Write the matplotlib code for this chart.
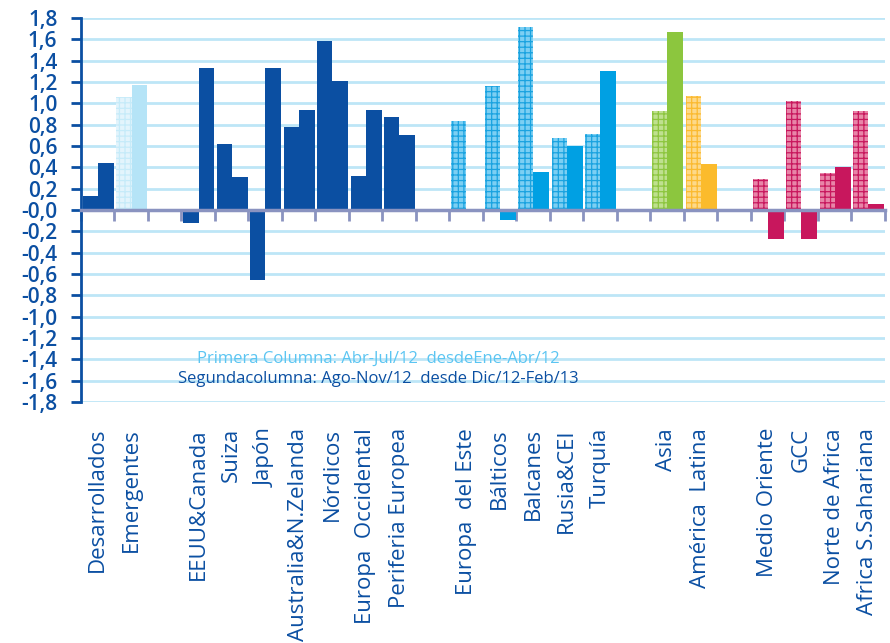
import numpy as np
import matplotlib.pyplot as plt
from matplotlib.transforms import blended_transform_factory

plt.rcParams['font.family'] = ['Open Sans', 'DejaVu Sans']
plt.rcParams['hatch.linewidth'] = 0.9

# Data
categories = ['Desarrollados', 'Emergentes',
              'EEUU&Canada', 'Suiza', 'Japón', 'Australia&N.Zelanda', 'Nórdicos',
              'Europa  Occidental', 'Periferia Europea',
              'Europa  del Este', 'Bálticos', 'Balcanes', 'Rusia&CEI', 'Turquía',
              'Asia', 'América  Latina',
              'Medio Oriente', 'GCC', 'Norte de Africa', 'Africa S.Sahariana']
group_sizes = [2, 7, 5, 2, 4]
first_col = [0.13, 1.06,
             -0.12, 0.62, -0.66, 0.78, 1.58, 0.32, 0.87,
             0.83, 1.16, 1.72, 0.67, 0.71,
             0.93, 1.07,
             0.29, 1.02, 0.35, 0.93]
second_col = [0.44, 1.17,
              1.33, 0.31, 1.33, 0.94, 1.21, 0.94, 0.70,
              -0.02, -0.09, 0.36, 0.60, 1.30,
              1.67, 0.43,
              -0.27, -0.27, 0.40, 0.06]
yticks = np.round(np.arange(-1.8, 1.81, 0.2), 1)

# colours: (first column face, first column hatch, second column)
dark = '#0b4fa2'
c_dark = (dark, None, dark)
c_emer = ('#e3f4fc', '#c6ebf9', '#b5e4f7')
c_east = ('#7ccff3', '#1aa3e0', '#00a0e3')
c_asia = ('#bfe08f', '#8dc63f', '#8cc63e')
c_lat = ('#fdd98a', '#fbba30', '#fbbb2c')
c_me = ('#e885a8', '#c8175d', '#c8175d')
colors = [c_dark, c_emer] + [c_dark] * 7 + [c_east] * 5 + [c_asia, c_lat] + [c_me] * 4

# slot positions, one empty slot between groups
slots = []
pos = 0
for g in group_sizes:
    slots.extend(range(pos, pos + g))
    pos += g + 1
n_slots = pos - 1

fig = plt.figure(figsize=(8.9, 6.43), dpi=100)
ax = fig.add_axes([0.091, 0.375, 0.903, 0.597])

for s, v1, v2, (face, hatch, solid) in zip(slots, first_col, second_col, colors):
    if hatch is None:
        ax.bar(s + 0.06, v1, width=0.45, align='edge', color=face, zorder=3)
    else:
        ax.bar(s + 0.06, v1, width=0.45, align='edge', facecolor=face,
               edgecolor=hatch, hatch='+++', linewidth=0, zorder=3)
    ax.bar(s + 0.51, v2, width=0.47, align='edge', color=solid, zorder=3)

ax.set_xlim(0, n_slots)
ax.set_ylim(-1.8, 1.8)

# grid
for y in yticks:
    if y != 0:
        ax.axhline(y, color='#bde6f7', linewidth=2, zorder=1)

# zero axis with boundary ticks
ax.spines['bottom'].set_position(('data', 0))
ax.spines['bottom'].set_color('#8a93c0')
ax.spines['bottom'].set_linewidth(2.5)
ax.spines['bottom'].set_zorder(4)
ax.set_xticks(np.arange(0, n_slots + 1))
ax.tick_params(axis='x', direction='out', length=8, width=2,
               color='#8a93c0', labelbottom=False)

for side in ['top', 'right']:
    ax.spines[side].set_visible(False)
ax.spines['left'].set_color(dark)
ax.spines['left'].set_linewidth(2)
ax.set_yticks(yticks)
ax.set_yticklabels([f'{y:.1f}'.replace('.', ',') for y in yticks],
                   fontweight='semibold')
ax.tick_params(axis='y', direction='out', length=7, width=2, color=dark,
               labelcolor=dark, labelsize=15, pad=10)

# category labels under the plot
trans = blended_transform_factory(ax.transData, ax.transAxes)
for s, name in zip(slots, categories):
    ax.text(s + 0.5, -0.068, name, transform=trans, rotation=90,
            ha='center', va='top', fontsize=16, color=dark)

ax.text(8.87, -1.40, 'Primera Columna: Abr-Jul/12  desdeEne-Abr/12',
        ha='center', va='center', fontsize=12, color='#5bc5f2', zorder=5)
ax.text(8.87, -1.585, 'Segundacolumna: Ago-Nov/12  desde Dic/12-Feb/13',
        ha='center', va='center', fontsize=12, color=dark, zorder=5)

fig.savefig('out.png', dpi=100)
